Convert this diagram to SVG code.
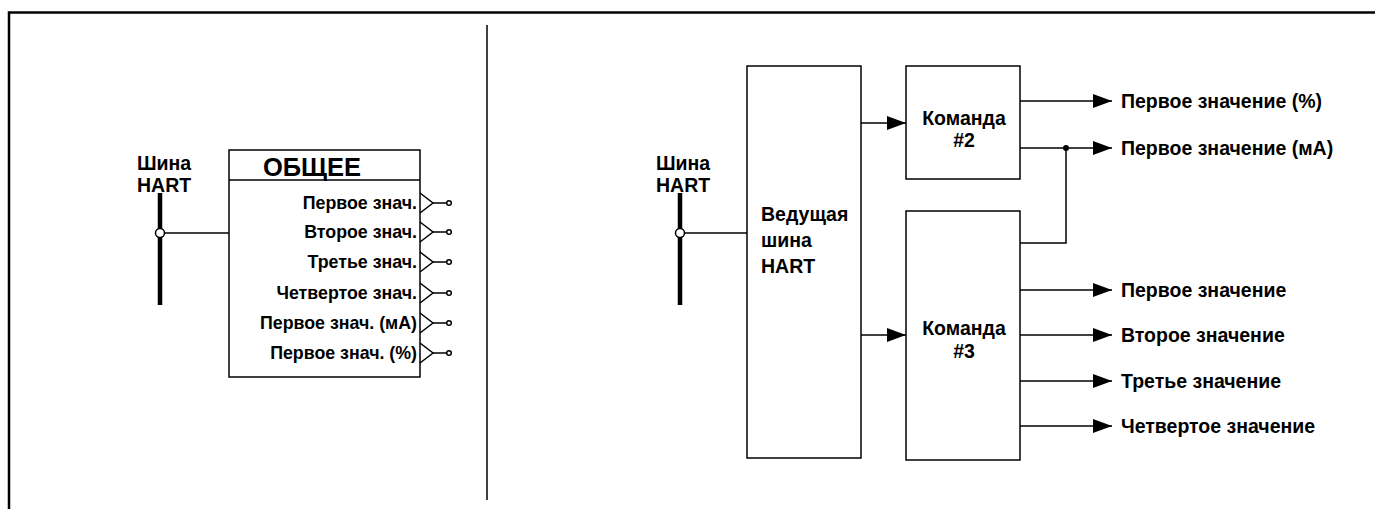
<svg xmlns="http://www.w3.org/2000/svg" width="1375" height="509" viewBox="0 0 1375 509">
<style>
text{font-family:"Liberation Sans",Arial,sans-serif;fill:#000;font-weight:bold}
.t{font-size:19.5px}
.p{font-size:17.8px;text-anchor:end}
.ln{stroke:#000;stroke-width:1.5;fill:none}
.box{fill:#fff;stroke:#000;stroke-width:1.5}
.bus{stroke:#000;stroke-width:4.5}
.c{fill:#fff;stroke:#000;stroke-width:1.5}
</style>
<defs>
<marker id="ah" markerWidth="19" markerHeight="14" refX="19" refY="7" orient="auto" markerUnits="userSpaceOnUse"><path d="M0,0 L19,7 L0,14 Z" fill="#000"/></marker>
<g id="port"><path d="M0,-10 L13,0 L0,10" class="ln"/><line x1="13" y1="0" x2="27" y2="0" class="ln"/><circle cx="29" cy="0" r="2.3" class="c" stroke-width="1.2"/></g>
</defs>
<g id="frame"><path d="M9,509 V12.5 H1375" fill="none" stroke="#000" stroke-width="2.5"/><line x1="487" y1="25" x2="487" y2="500" stroke="#000" stroke-width="1.5"/></g>
<g id="bus-left"><line x1="160" y1="193" x2="160" y2="305" class="bus"/><circle cx="160" cy="233" r="4.5" class="c"/><text class="t" x="137" y="170">Шина</text><text class="t" x="137" y="192">HART</text></g>
<g id="obshee">
<rect x="229" y="150" width="191" height="227" class="box"/>
<line x1="229" y1="180" x2="420" y2="180" class="ln"/>
<text x="312" y="176" font-size="25.5" text-anchor="middle">ОБЩЕЕ</text>
<text class="p" x="417" y="209">Первое знач.</text>
<text class="p" x="417" y="238">Второе знач.</text>
<text class="p" x="417" y="268">Третье знач.</text>
<text class="p" x="417" y="299">Четвертое знач.</text>
<text class="p" x="417" y="329">Первое знач. (мА)</text>
<text class="p" x="417" y="359">Первое знач. (%)</text>
<use href="#port" x="420" y="203"/><use href="#port" x="420" y="232"/><use href="#port" x="420" y="262"/><use href="#port" x="420" y="293"/><use href="#port" x="420" y="323"/><use href="#port" x="420" y="353"/>
</g>
<g id="bus-right"><line x1="680" y1="193" x2="680" y2="305" class="bus"/><circle cx="680" cy="233" r="4.5" class="c"/><text class="t" x="656" y="170">Шина</text><text class="t" x="656" y="192">HART</text></g>
<g id="master"><rect x="747" y="66" width="114" height="392" class="box"/><text class="t" x="761" y="221">Ведущая</text><text class="t" x="761" y="247">шина</text><text class="t" x="761" y="273">HART</text></g>
<g id="cmd2"><rect x="906" y="66" width="114" height="113" class="box"/><text class="t" x="964" y="125" text-anchor="middle">Команда</text><text class="t" x="964" y="147" text-anchor="middle">#2</text></g>
<g id="cmd3"><rect x="906" y="211" width="114" height="249" class="box"/><text class="t" x="964" y="335" text-anchor="middle">Команда</text><text class="t" x="964" y="358" text-anchor="middle">#3</text></g>
<g id="connectors">
<line x1="164.5" y1="233" x2="229" y2="233" class="ln"/>
<line x1="684.5" y1="233" x2="747" y2="233" class="ln"/>
<line x1="861" y1="123" x2="906" y2="123" class="ln" marker-end="url(#ah)"/>
<line x1="861" y1="335" x2="906" y2="335" class="ln" marker-end="url(#ah)"/>
<line x1="1020" y1="101" x2="1112" y2="101" class="ln" marker-end="url(#ah)"/>
<line x1="1020" y1="148" x2="1112" y2="148" class="ln" marker-end="url(#ah)"/>
<path d="M1020,243 H1066 V148" class="ln"/>
<circle cx="1066" cy="148" r="3" fill="#000"/>
<line x1="1020" y1="290" x2="1112" y2="290" class="ln" marker-end="url(#ah)"/>
<line x1="1020" y1="335" x2="1112" y2="335" class="ln" marker-end="url(#ah)"/>
<line x1="1020" y1="381" x2="1112" y2="381" class="ln" marker-end="url(#ah)"/>
<line x1="1020" y1="426" x2="1112" y2="426" class="ln" marker-end="url(#ah)"/>
</g>
<g id="outputs">
<text class="t" x="1121" y="108">Первое значение (%)</text>
<text class="t" x="1121" y="155">Первое значение (мА)</text>
<text class="t" x="1121" y="297">Первое значение</text>
<text class="t" x="1121" y="342">Второе значение</text>
<text class="t" x="1121" y="388">Третье значение</text>
<text class="t" x="1121" y="433">Четвертое значение</text>
</g>
</svg>
